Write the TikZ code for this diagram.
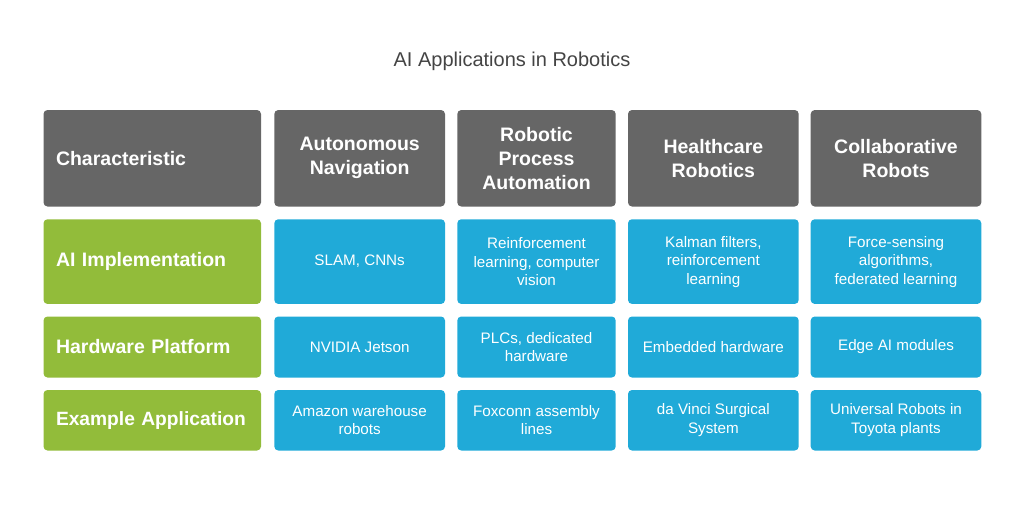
\documentclass[tikz,border=0pt]{standalone}
\usepackage{fontspec}
\setmainfont{Liberation Sans}
\definecolor{hdgray}{HTML}{666666}
\definecolor{rowgreen}{HTML}{92BC3A}
\definecolor{cellblue}{HTML}{20AAD8}
\definecolor{titlegray}{HTML}{444444}
\begin{document}
\begin{tikzpicture}[x=1pt, y=-1pt,
  box/.style={rounded corners=4pt, inner sep=0pt, text=white, align=center},
  head/.style={box, fill=hdgray, minimum height=96.5pt, font=\fontsize{19.5}{24}\selectfont\bfseries},
  lab/.style={box, fill=rowgreen, text width=192.5pt, inner xsep=12.5pt, align=left, font=\fontsize{19.5}{24}\selectfont\bfseries},
  cell/.style={box, fill=cellblue, font=\fontsize{15.2}{18.5}\selectfont}]
\useasboundingbox (0,0) rectangle (1024,512);
\node[text=titlegray, font=\fontsize{20}{24}\selectfont] (title) at (512,61.5){AI Applications in Robotics};

\node[head, text width=192.5pt, inner xsep=12.5pt, align=left] (hd0) at (152.25,158.25){Characteristic};
\node[head, minimum width=170.7pt] (hd1) at (359.65,158.25){Autonomous\\Navigation};
\node[head, minimum width=158.4pt] (hd2) at (536.5,158.25){Robotic\\Process\\Automation};
\node[head, minimum width=170.7pt] (hd3) at (713.35,158.25){Healthcare\\Robotics};
\node[head, minimum width=170.6pt] (hd4) at (896,158.25){Collaborative\\Robots};

\node[lab, minimum height=84.7pt] (ai0) at (152.25,261.6){AI Implementation};
\node[cell, minimum height=84.7pt, minimum width=170.7pt] (ai1) at (359.65,261.6){SLAM, CNNs};
\node[cell, minimum height=84.7pt, minimum width=158.4pt] (ai2) at (536.5,261.6){Reinforcement\\learning, computer\\vision};
\node[cell, minimum height=84.7pt, minimum width=170.7pt] (ai3) at (713.35,261.6){Kalman filters,\\reinforcement\\learning};
\node[cell, minimum height=84.7pt, minimum width=170.6pt] (ai4) at (896,261.6){Force-sensing\\algorithms,\\federated learning};

\node[lab, minimum height=61pt] (hw0) at (152.25,347){Hardware Platform};
\node[cell, minimum height=61pt, minimum width=170.7pt] (hw1) at (359.65,347){NVIDIA Jetson};
\node[cell, minimum height=61pt, minimum width=158.4pt] (hw2) at (536.5,347){PLCs, dedicated\\hardware};
\node[cell, minimum height=61pt, minimum width=170.7pt] (hw3) at (713.35,347){Embedded hardware};
\node[cell, minimum height=61pt, minimum width=170.6pt] (hw4) at (896,347){Edge AI modules};

\node[lab, minimum height=60.5pt, font=\fontsize{19.2}{24}\selectfont\bfseries] (ex0) at (152.25,420.25){Example Application};
\node[cell, minimum height=60.5pt, minimum width=170.7pt] (ex1) at (359.65,420.25){Amazon warehouse\\robots};
\node[cell, minimum height=60.5pt, minimum width=158.4pt] (ex2) at (536.5,420.25){Foxconn assembly\\lines};
\node[cell, minimum height=60.5pt, minimum width=170.7pt] (ex3) at (713.35,420.25){da Vinci Surgical\\System};
\node[cell, minimum height=60.5pt, minimum width=170.6pt] (ex4) at (896,420.25){Universal Robots in\\Toyota plants};

\end{tikzpicture}
\end{document}
